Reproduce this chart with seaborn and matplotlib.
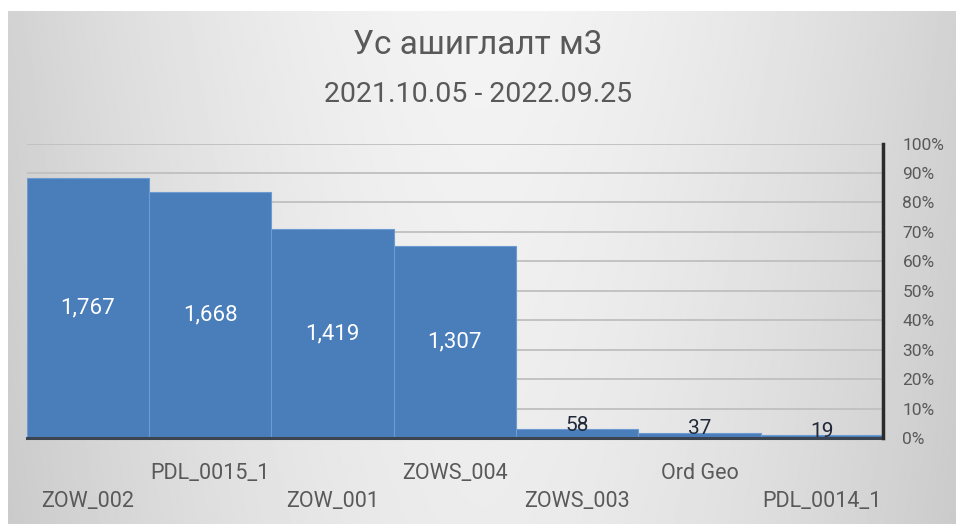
import numpy as np
import pandas as pd
import seaborn as sns
import matplotlib.pyplot as plt
from matplotlib.ticker import PercentFormatter

# Data
wells = ["ZOW_002", "PDL_0015_1", "ZOW_001", "ZOWS_004", "ZOWS_003", "Ord Geo", "PDL_0014_1"]
usage = [1767, 1668, 1419, 1307, 58, 37, 19]
title = "Ус ашиглалт м3"
subtitle = "2021.10.05 - 2022.09.25"

df = pd.DataFrame({"well": wells, "usage": usage})

sns.set_style("white")
plt.rcParams["font.family"] = ["Roboto", "DejaVu Sans"]
text_col = "#595959"
bar_col = "#4a7ebb"

dpi = 100
fig = plt.figure(figsize=(956 / dpi, 524 / dpi), dpi=dpi)
fig.patch.set_facecolor("white")

# gradient background of the chart area
bg = fig.add_axes([8 / 956, 0, 948 / 956, 513 / 524])
gx = np.linspace(-1, 1, 400)
gy = np.linspace(-1, 1, 220)
X, Y = np.meshgrid(gx, gy)
shade = 0.955 - 0.13 * np.abs(X) ** 1.6 - 0.03 * (Y + 1) / 2
bg.imshow(shade, cmap="gray", vmin=0, vmax=1, aspect="auto", extent=[0, 1, 0, 1])
bg.axis("off")

# main plot area
ax = fig.add_axes([26.7 / 956, 86 / 524, (883 - 26.7) / 956, (438 - 143.5) / 524])
ax.set_facecolor("none")
sns.barplot(data=df, x="well", y="usage", ax=ax, width=1, color=bar_col,
            saturation=1, edgecolor="#6d9ad0", linewidth=0.8, zorder=3)
ax.set_ylim(0, 2000)
ax.set_xlim(-0.5, len(wells) - 0.5)
ax.set_yticks(np.arange(0, 2001, 200))
ax.set_yticklabels([])
ax.tick_params(axis="y", length=0)
ax.grid(axis="y", color="#c2c2c2", linewidth=1.4, zorder=0)
ax.set_axisbelow(True)
ax.set_xlabel("")
ax.set_ylabel("")
for s in ["top", "left", "right"]:
    ax.spines[s].set_visible(False)
ax.spines["bottom"].set_color("#3c4450")
ax.spines["bottom"].set_linewidth(2.2)
ax.spines["bottom"].set_zorder(5)

# staggered category labels
ax.set_xticks(range(len(wells)))
ax.set_xticklabels([("\n" + w) if i % 2 == 0 else w for i, w in enumerate(wells)],
                   fontsize=15.5, color=text_col)
for lbl in ax.get_xticklabels():
    lbl.set_linespacing(1.45)
ax.tick_params(axis="x", length=0, pad=18)

# value labels
bars = ax.containers[0]
big = [f"{v:,}" if v > 500 else "" for v in usage]
small = [f"{v:,}" if v <= 500 else "" for v in usage]
ax.bar_label(bars, labels=big, label_type="center", color="white", fontsize=16)
ax.bar_label(bars, labels=small, label_type="edge", padding=-4, color="#222a3a", fontsize=15)

# secondary percent axis
ax2 = ax.twinx()
ax2.set_ylim(0, 1)
ax2.set_yticks(np.arange(0, 1.01, 0.1))
ax2.yaxis.set_major_formatter(PercentFormatter(1.0, decimals=0))
ax2.tick_params(axis="y", length=0, pad=14, labelsize=12.5, labelcolor=text_col)
for s in ["top", "left", "bottom"]:
    ax2.spines[s].set_visible(False)
ax2.spines["right"].set_color("#2b2b2b")
ax2.spines["right"].set_linewidth(2.5)

fig.text(0.5, 1 - 45 / 524, title, ha="center", va="center", fontsize=24, color=text_col)
fig.text(0.5, 1 - 95 / 524, subtitle, ha="center", va="center", fontsize=20.5, color=text_col)

plt.savefig("out.png", dpi=dpi)
